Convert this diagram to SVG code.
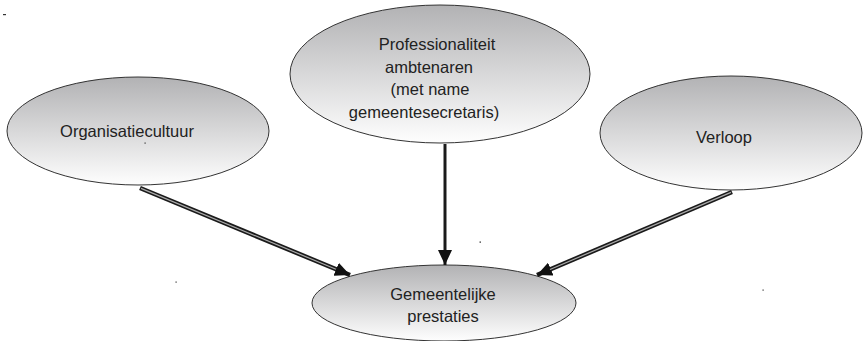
<svg xmlns="http://www.w3.org/2000/svg" width="864" height="341" viewBox="0 0 864 341">
<defs>
<linearGradient id="g" x1="0" y1="0" x2="0" y2="1">
<stop offset="0" stop-color="#b2b2b4"/>
<stop offset="1" stop-color="#fefefe"/>
</linearGradient>
<marker id="ah" markerUnits="userSpaceOnUse" markerWidth="16" markerHeight="14" refX="15" refY="7" orient="auto" viewBox="0 0 16 14">
<path d="M0,0 L15,7 L0,14 z" fill="#111"/>
</marker>
</defs>
<style>
.node ellipse{fill:url(#g);stroke:#333;stroke-width:1}
.node text{font-family:"Liberation Sans",Arial,sans-serif;font-size:16.5px;fill:#222;text-anchor:middle}
.outer{fill:none;stroke:#1a1a1a;stroke-width:4.5}
.inner{fill:none;stroke:#aaa;stroke-width:1.2}
.solid{fill:none;stroke:#1a1a1a;stroke-width:3}
.dot{fill:#333}
</style>
<g id="n-organisatiecultuur" class="node">
<ellipse cx="138" cy="131" rx="131" ry="54"/>
<text x="127" y="137">Organisatiecultuur</text>
</g>
<g id="n-professionaliteit" class="node">
<ellipse cx="440" cy="74" rx="150" ry="69"/>
<text x="437" y="50">Professionaliteit</text>
<text x="429" y="72.5">ambtenaren</text>
<text x="430" y="95">(met name</text>
<text x="424" y="117.5">gemeentesecretaris)</text>
</g>
<g id="n-verloop" class="node">
<ellipse cx="731" cy="133" rx="131" ry="57"/>
<text x="724" y="143">Verloop</text>
</g>
<g id="n-gemeentelijke" class="node">
<ellipse cx="444" cy="303" rx="132" ry="38"/>
<text x="443" y="300">Gemeentelijke</text>
<text x="443" y="322">prestaties</text>
</g>
<g id="connectors">
<path class="outer" d="M140,188 L350,275" marker-end="url(#ah)"/>
<path class="inner" d="M141,188.4 L336,269.2"/>
<path class="solid" d="M445,144 L445,265" marker-end="url(#ah)"/>
<path class="outer" d="M732,192 L537,275" marker-end="url(#ah)"/>
<path class="inner" d="M731,192.4 L550,269.5"/>
</g>
<rect class="dot" x="3" y="14" width="3" height="1.2"/>
<rect class="dot" x="144.5" y="142.5" width="1.2" height="1.2"/>
<rect class="dot" x="175.5" y="281.5" width="1.2" height="1.2"/>
<rect class="dot" x="479.5" y="241.5" width="1.5" height="1.2"/>
<rect class="dot" x="762.5" y="289.5" width="1.2" height="1.2"/>
</svg>
